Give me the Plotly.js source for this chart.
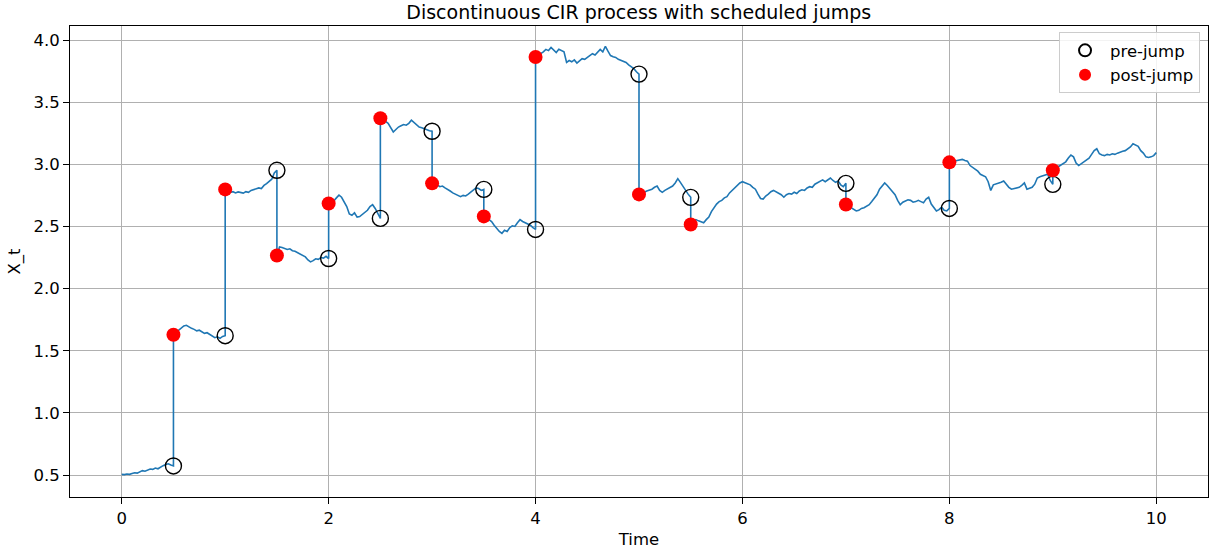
<!DOCTYPE html>
<html>
<head>
<meta charset="utf-8">
<script src="https://cdn.plot.ly/plotly-3.0.1.min.js"></script>
<style>html,body{margin:0;padding:0;background:#fff;}#chart{width:1212px;height:549px;}</style>
</head>
<body>
<div id="chart"></div>
<script>
// Segment boundaries (start, jumps, end)
const segStarts = [0, 0.5, 1.0, 1.5, 2.0, 2.5, 3.0, 3.5, 4.0, 5.0, 5.5, 7.0, 8.0, 9.0];
const dt = 0.025;

// Path values per segment, sampled every dt from segment start
const seg0 = [0.505,0.503,0.508,0.505,0.512,0.518,0.515,0.525,0.535,0.530,0.542,0.548,0.545,0.556,0.550,0.565,0.575,0.585,0.590,0.580,0.573];
const seg1 = [1.629,1.645,1.665,1.680,1.700,1.705,1.690,1.680,1.672,1.660,1.665,1.650,1.640,1.645,1.630,1.615,1.605,1.612,1.600,1.615,1.621];
const seg2 = [2.798,2.785,2.775,2.780,2.770,2.778,2.772,2.768,2.780,2.775,2.790,2.795,2.800,2.810,2.805,2.830,2.845,2.860,2.880,2.930,2.952];
const seg3 = [2.266,2.335,2.330,2.325,2.315,2.320,2.305,2.300,2.290,2.280,2.270,2.255,2.230,2.215,2.225,2.240,2.235,2.250,2.245,2.260,2.242];
const seg4 = [2.685,2.690,2.705,2.730,2.752,2.735,2.700,2.660,2.600,2.590,2.610,2.575,2.580,2.597,2.610,2.630,2.660,2.675,2.645,2.600,2.565];
const seg5 = [3.371,3.360,3.345,3.330,3.300,3.260,3.280,3.300,3.310,3.320,3.315,3.330,3.355,3.335,3.320,3.300,3.295,3.285,3.275,3.270,3.266];
const seg6 = [2.847,2.830,2.835,2.820,2.825,2.810,2.800,2.785,2.770,2.760,2.745,2.740,2.750,2.745,2.760,2.775,2.790,2.810,2.805,2.790,2.798];
const seg7 = [2.581,2.570,2.555,2.540,2.510,2.480,2.460,2.445,2.470,2.460,2.490,2.505,2.500,2.530,2.555,2.540,2.530,2.520,2.510,2.490,2.476];
const seg8 = [3.863,3.875,3.890,3.905,3.925,3.915,3.940,3.920,3.900,3.925,3.915,3.905,3.820,3.835,3.825,3.840,3.815,3.830,3.850,3.845,
              3.860,3.875,3.890,3.880,3.900,3.925,3.905,3.950,3.910,3.875,3.865,3.860,3.845,3.835,3.825,3.820,3.800,3.785,3.770,3.745,3.726];
const seg9 = [2.758,2.770,2.775,2.785,2.790,2.800,2.815,2.825,2.790,2.775,2.790,2.800,2.810,2.825,2.850,2.885,2.855,2.820,2.790,2.760,2.734];
const seg10 = [2.516,2.540,2.555,2.545,2.540,2.530,2.555,2.575,2.620,2.655,2.680,2.700,2.710,2.730,2.740,2.770,2.790,2.810,2.835,2.850,
               2.860,2.850,2.845,2.835,2.815,2.800,2.760,2.725,2.720,2.745,2.760,2.780,2.790,2.780,2.770,2.755,2.735,2.755,2.765,2.760,
               2.775,2.765,2.785,2.795,2.790,2.810,2.820,2.815,2.840,2.850,2.865,2.875,2.860,2.875,2.890,2.870,2.855,2.865,2.835,2.820,2.847];
const seg11 = [2.677,2.665,2.655,2.640,2.625,2.630,2.645,2.650,2.665,2.675,2.700,2.730,2.755,2.800,2.825,2.850,2.830,2.805,2.780,2.755,
               2.710,2.675,2.695,2.705,2.715,2.710,2.695,2.700,2.710,2.700,2.690,2.720,2.735,2.680,2.650,2.625,2.635,2.655,2.630,2.625,2.645];
const seg12 = [3.016,3.030,3.025,3.030,3.035,3.040,3.030,3.025,2.990,2.975,2.960,2.945,2.920,2.910,2.900,2.860,2.790,2.835,2.840,2.850,
               2.855,2.865,2.840,2.815,2.800,2.805,2.810,2.815,2.830,2.850,2.800,2.805,2.815,2.840,2.890,2.900,2.905,2.915,2.920,2.870,2.839];
const seg13 = [2.952,2.965,2.980,2.990,3.005,3.020,3.050,3.075,3.060,3.010,2.990,3.005,3.025,3.040,3.050,3.080,3.110,3.125,3.085,3.075,
               3.070,3.080,3.075,3.085,3.080,3.090,3.100,3.105,3.110,3.125,3.140,3.165,3.155,3.145,3.110,3.090,3.060,3.055,3.060,3.070,3.094];
const segments = [seg0,seg1,seg2,seg3,seg4,seg5,seg6,seg7,seg8,seg9,seg10,seg11,seg12,seg13];

// Scheduled jumps
const jumpTimes = [0.5, 1.0, 1.5, 2.0, 2.5, 3.0, 3.5, 4.0, 5.0, 5.5, 7.0, 8.0, 9.0];
const preJump  = [0.573, 1.621, 2.952, 2.242, 2.565, 3.266, 2.798, 2.476, 3.726, 2.734, 2.847, 2.645, 2.839];
const postJump = [1.629, 2.798, 2.266, 2.685, 3.371, 2.847, 2.581, 3.863, 2.758, 2.516, 2.677, 3.016, 2.952];

const xTicks = [0, 2, 4, 6, 8, 10];
const yTicks = [0.5, 1.0, 1.5, 2.0, 2.5, 3.0, 3.5, 4.0];

const pathT = [], pathX = [];
segments.forEach((seg, k) => {
  seg.forEach((v, i) => {
    pathT.push(+(segStarts[k] + i * dt).toFixed(4));
    pathX.push(v);
  });
});

const FONT = 'DejaVu Sans, sans-serif';
const FS = 16.5;

const traces = [
  {x: pathT, y: pathX, type: 'scatter', mode: 'lines',
   line: {color: '#1f77b4', width: 1.6}, showlegend: false, hoverinfo: 'skip'},
  {x: jumpTimes, y: preJump, type: 'scatter', mode: 'markers', name: 'pre-jump',
   marker: {symbol: 'circle-open', size: 16, color: '#000000', line: {color: '#000000', width: 1.4}}},
  {x: jumpTimes, y: postJump, type: 'scatter', mode: 'markers', name: 'post-jump',
   marker: {symbol: 'circle', size: 14, color: '#ff0000', line: {width: 0}}}
];

const axisCommon = {
  showline: true, mirror: true, linecolor: '#000', linewidth: 1,
  ticks: 'outside', ticklen: 6, tickwidth: 1, tickcolor: '#000',
  showgrid: true, gridcolor: '#b0b0b0', gridwidth: 1, zeroline: false,
  tickfont: {family: FONT, size: FS, color: '#000'}
};

const layout = {
  width: 1212, height: 549,
  margin: {l: 70, r: 4, t: 26, b: 52},
  paper_bgcolor: '#fff', plot_bgcolor: '#fff',
  font: {family: FONT, color: '#000'},
  title: {text: 'Discontinuous CIR process with scheduled jumps',
          font: {family: FONT, size: 19, color: '#000'},
          x: 0.527, xanchor: 'center', xref: 'container',
          y: 1 - 12/549, yanchor: 'middle', yref: 'container',
          pad: {t: 0, b: 0, l: 0, r: 0}},
  xaxis: Object.assign({}, axisCommon, {
    range: [-0.5, 10.5], tickvals: xTicks, ticktext: xTicks.map(String),
    title: {text: 'Time', font: {family: FONT, size: FS, color: '#000'}, standoff: 6}
  }),
  yaxis: Object.assign({}, axisCommon, {
    range: [0.323, 4.113], tickvals: yTicks, ticktext: yTicks.map(v => v.toFixed(1)),
    title: {text: 'X_t', font: {family: FONT, size: FS, color: '#000'}, standoff: 8}
  }),
  legend: {x: 0.993, xanchor: 'right', y: 0.987, yanchor: 'top',
           bgcolor: 'rgba(255,255,255,0.85)', bordercolor: '#cccccc', borderwidth: 1,
           font: {family: FONT, size: FS, color: '#000'}, itemsizing: 'constant',
           itemwidth: 40, tracegroupgap: 2},
  showlegend: true
};

Plotly.newPlot('chart', traces, layout, {displayModeBar: false, staticPlot: true});
</script>
</body>
</html>
